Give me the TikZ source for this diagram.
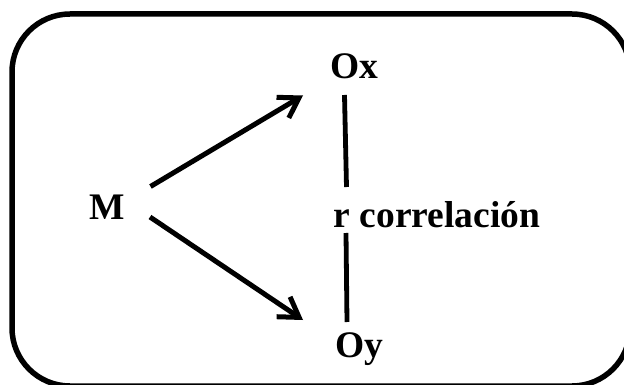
\documentclass[tikz,border=0pt]{standalone}
\usepackage{fontspec}
\setmainfont{Liberation Serif}
\usetikzlibrary{arrows.meta}
\tikzset{
  lbl/.style={font=\bfseries\fontsize{37.5}{42}\selectfont, inner sep=0pt, anchor=base},
  arr/.style={line width=5pt, -{Straight Barb[length=19pt, width=24pt, line width=5pt]}},
  link/.style={line width=4.8pt},
  frame/.style={line width=5.5pt, rounded corners=58pt}
}
\begin{document}
\begin{tikzpicture}[x=1pt, y=-1pt]
\clip (0,0) rectangle (624,385);
\draw[frame] (12,14) rectangle (630,386);
\node[lbl] (M) at (107.5,219) {M};
\node[lbl] (Ox) at (354,79) {Ox};
\node[lbl] (Oy) at (359,357) {Oy};
\node[lbl] (r) at (437,227) {r correlación};
\coordinate (mUp) at (150.5,186.5);
\coordinate (oxIn) at (303,95.5);
\coordinate (mDn) at (150,217);
\coordinate (oyIn) at (303,320);
\draw[arr] (mUp) -- (oxIn);
\draw[arr] (mDn) -- (oyIn);
\coordinate (oxB) at (344.5,95);
\coordinate (rT) at (346.5,187);
\coordinate (rB) at (346,233);
\coordinate (oyT) at (347,322);
\draw[link] (oxB) -- (rT);
\draw[link] (rB) -- (oyT);
\end{tikzpicture}
\end{document}
